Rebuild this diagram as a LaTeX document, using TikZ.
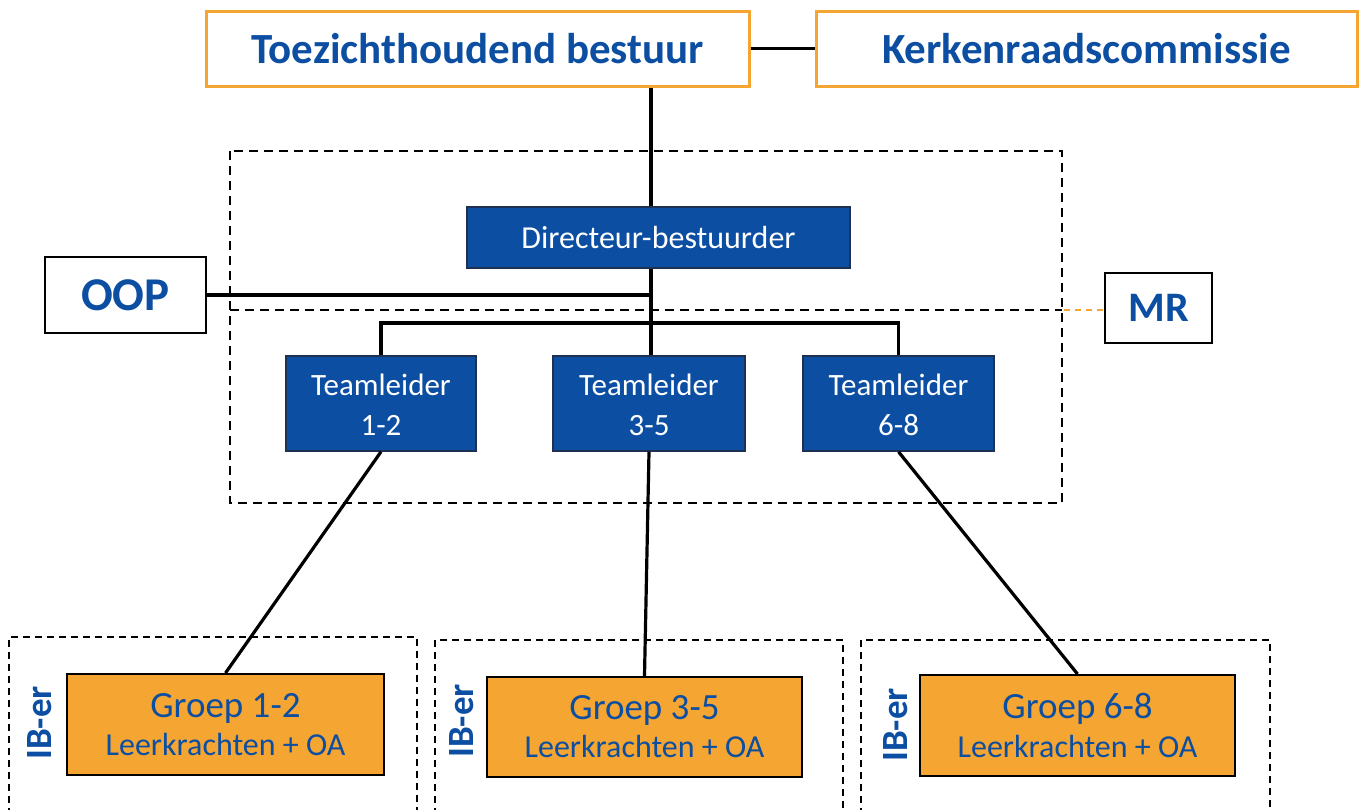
\documentclass[tikz,border=0pt]{standalone}
\usepackage{fontspec}
\setmainfont{Carlito}
\definecolor{mblue}{HTML}{0B4EA2}
\definecolor{morange}{HTML}{F4A532}
\definecolor{dborder}{HTML}{1F3050}
\begin{document}
\begin{tikzpicture}[x=1pt,y=-1pt,
  topbox/.style={draw=morange,line width=3pt,fill=white,text=mblue,font=\bfseries\fontsize{43}{46}\selectfont,inner sep=0pt},
  sidebox/.style={draw=black,line width=1.5pt,fill=white,text=mblue,font=\bfseries\fontsize{47}{48}\selectfont,inner sep=0pt},
  bluebox/.style={draw=dborder,line width=1.5pt,fill=mblue,text=white,inner sep=0pt,align=center},
  groepbox/.style={draw=black,line width=2pt,fill=morange,text=mblue,inner sep=0pt,align=center},
  conn/.style={line width=3.2pt,black},
  dashbox/.style={line width=2pt,dash pattern=on 9pt off 6pt},
  dashbox2/.style={line width=1.5pt,dash pattern=on 7pt off 5pt},
  ibtext/.style={text=mblue,font=\bfseries\fontsize{37}{40}\selectfont,rotate=90,inner sep=0pt}
]
\useasboundingbox (0,0) rectangle (1363,809);
\fill[white] (0,0) rectangle (1363,809);
% dashed groups
\draw[dashbox] (230,151) rectangle (1062,503);
\draw[dashbox] (230,310) -- (1062,310);
\draw[dashbox2] (9,815) -- (9,637) -- (417,637) -- (417,815);
\draw[dashbox2] (435,815) -- (435,640) -- (843,640) -- (843,815);
\draw[dashbox2] (861,815) -- (861,640) -- (1270,640) -- (1270,815);
\coordinate (trunk) at (651,0);
\coordinate (bar) at (0,323);
\coordinate (mrin) at (1064,310);
% nodes
\node[topbox,minimum width=543pt,minimum height=75pt] (TB) at (477.5,48.5) {Toezichthoudend bestuur};
\node[topbox,minimum width=541pt,minimum height=75pt] (KC) at (1086.5,48.5) {Kerkenraadscommissie};
\node[bluebox,font=\fontsize{32}{36}\selectfont,minimum width=383pt,minimum height=61pt] (DB) at (658.5,237.5) {Directeur-bestuurder};
\node[sidebox,minimum width=161pt,minimum height=76pt] (OOP) at (125.5,295) {OOP};
\node[sidebox,font=\bfseries\fontsize{42}{46}\selectfont,minimum width=107pt,minimum height=70pt] (MR) at (1158.5,308) {MR};
\node[bluebox,font=\fontsize{31}{40}\selectfont,minimum width=190pt,minimum height=95pt,text depth=0pt] (TL12) at (381,403.5) {\raisebox{-3pt}{Teamleider}\\\raisebox{-3pt}{1-2}};
\node[bluebox,font=\fontsize{31}{40}\selectfont,minimum width=192pt,minimum height=95pt,text depth=0pt] (TL35) at (649,403.5) {\raisebox{-3pt}{Teamleider}\\\raisebox{-3pt}{3-5}};
\node[bluebox,font=\fontsize{31}{40}\selectfont,minimum width=191pt,minimum height=95pt,text depth=0pt] (TL68) at (898.5,403.5) {\raisebox{-3pt}{Teamleider}\\\raisebox{-3pt}{6-8}};
\node[groepbox,minimum width=317pt,minimum height=101pt] (G12) at (225.5,724.5) {\raisebox{-4pt}{\fontsize{37}{40}\selectfont Groep 1-2}\\[9pt]\raisebox{-4pt}{\fontsize{32}{36}\selectfont Leerkrachten + OA}};
\node[groepbox,minimum width=315pt,minimum height=100pt] (G35) at (644.5,727) {\raisebox{-4pt}{\fontsize{37}{40}\selectfont Groep 3-5}\\[9pt]\raisebox{-4pt}{\fontsize{32}{36}\selectfont Leerkrachten + OA}};
\node[groepbox,minimum width=315pt,minimum height=101pt] (G68) at (1077.5,725.5) {\raisebox{-4pt}{\fontsize{37}{40}\selectfont Groep 6-8}\\[9pt]\raisebox{-4pt}{\fontsize{32}{36}\selectfont Leerkrachten + OA}};
\node[ibtext] (IB1) at (40,723) {IB-er};
\node[ibtext] (IB2) at (462,721) {IB-er};
\node[ibtext] (IB3) at (896,725) {IB-er};
% connectors
\draw[conn] (TB.east) -- (KC.west);
\draw[conn] (TB.south -| trunk) -- (DB.north -| trunk);
\draw[conn] (DB.south -| trunk) -- (TL35.north -| trunk);
\draw[conn] (OOP.east) -- (OOP.east -| trunk);
\draw[conn] (TL12.north) -- (TL12.north |- bar) -- (TL68.north |- bar) -- (TL68.north);
\draw[conn] (TL12.south) -- (G12.north);
\draw[conn] (TL35.south) -- (G35.north);
\draw[conn] (TL68.south) -- (G68.north);
\draw[morange,line width=1.5pt,dash pattern=on 6pt off 5pt] (mrin) -- (MR.west |- mrin);
\end{tikzpicture}
\end{document}
